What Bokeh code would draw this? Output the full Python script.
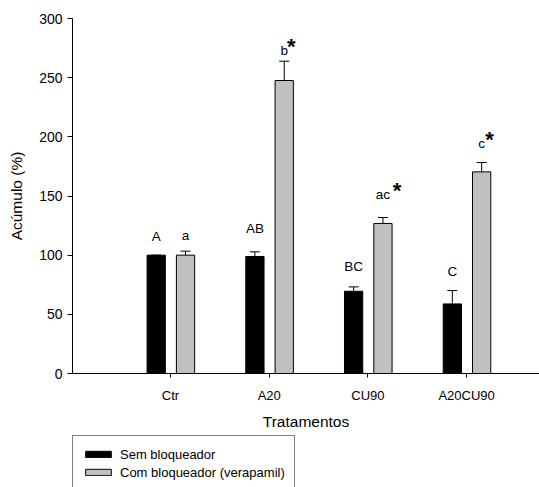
from bokeh.plotting import figure
from bokeh.layouts import column
from bokeh.models import ColumnDataSource, Whisker, TeeHead, Legend, LegendItem, FixedTicker, Range1d
from bokeh.core.properties import value
from bokeh.embed import file_html
from bokeh.resources import INLINE

# ---- data ----
treatments = ["Ctr", "A20", "CU90", "A20CU90"]
sem_mean = [100.0, 98.9, 69.5, 58.8]
sem_err = [0.0, 3.9, 3.7, 11.3]
com_mean = [100.0, 247.6, 126.8, 170.4]
com_err = [3.4, 16.3, 5.0, 7.9]
sem_letters = ["A", "AB", "BC", "C"]
sem_letter_y = [115.4, 122.8, 90.1, 86.5]
com_letters = ["a", "b", "ac", "c"]
com_letter_y = [116.9, 273.2, 151.5, 194.4]
com_stars = ["", "*", "*", "*"]
y_ticks = [0, 50, 100, 150, 200, 250, 300]
series_names = ["Sem bloqueador", "Com bloqueador (verapamil)"]

FONT = "Liberation Sans"
DODGE_SEM = -0.145
DODGE_COM = 0.152
BAR_W = 0.185
SEM_STYLE = dict(fill_color="black", line_color="black", line_width=1)
COM_STYLE = dict(fill_color="#c0c0c0", line_color="black", line_width=1)

xs = list(range(len(treatments)))
sem_src = ColumnDataSource(dict(
    x=[x + DODGE_SEM for x in xs], top=sem_mean,
    upper=[m + e for m, e in zip(sem_mean, sem_err)],
    lab=sem_letters, lab_y=sem_letter_y))
com_src = ColumnDataSource(dict(
    x=[x + DODGE_COM for x in xs], top=com_mean,
    upper=[m + e for m, e in zip(com_mean, com_err)],
    lab=com_letters, lab_y=com_letter_y,
    star=com_stars, star_y=[y + 3.0 for y in com_letter_y],
    star_dx=[0, 7, 14, 8]))

p = figure(width=539, height=434, output_backend="svg", toolbar_location=None,
           x_range=Range1d(-0.993, 3.738), y_range=Range1d(0, 300),
           min_border_left=72, min_border_top=18, min_border_right=0,
           min_border_bottom=61)
p.outline_line_color = None
p.xgrid.visible = False
p.ygrid.visible = False
p.background_fill_color = "white"
p.border_fill_color = "white"

p.vbar(x="x", top="top", width=BAR_W, bottom=0, source=sem_src, **SEM_STYLE)
p.vbar(x="x", top="top", width=BAR_W, bottom=0, source=com_src, **COM_STYLE)

for src in (sem_src, com_src):
    w = Whisker(source=src, base="x", lower="top", upper="upper", dimension="height",
                line_color="black", line_width=1,
                upper_head=TeeHead(size=10, line_color="black", line_width=1),
                lower_head=None)
    p.add_layout(w)

for src in (sem_src, com_src):
    p.text(x="x", y="lab_y", text="lab", source=src, text_align="center",
           text_baseline="alphabetic", text_font=value(FONT), text_font_size="13.5px",
           text_color="black")
p.text(x="x", y="star_y", text="star", source=com_src, x_offset="star_dx",
       text_align="center", text_baseline="alphabetic", text_font=value(FONT),
       text_font_size="22px", text_font_style="bold", text_color="black")

# axes
p.xaxis.ticker = FixedTicker(ticks=xs)
p.xaxis.major_label_overrides = {i: t for i, t in enumerate(treatments)}
p.xaxis.minor_tick_line_color = None
p.xaxis.major_tick_in = 0
p.xaxis.major_tick_out = 4
p.xaxis.major_label_standoff = 10
p.xaxis.axis_label = "Tratamentos"
p.xaxis.axis_label_standoff = 7

p.yaxis.ticker = FixedTicker(ticks=y_ticks)
p.yaxis.minor_tick_line_color = None
p.yaxis.major_tick_in = 0
p.yaxis.major_tick_out = 5
p.yaxis.major_label_standoff = 5
p.yaxis.axis_label = "Acúmulo (%)"
p.yaxis.axis_label_standoff = 11

for ax in (p.xaxis, p.yaxis):
    ax.axis_line_color = "black"
    ax.major_tick_line_color = "black"
    ax.major_label_text_font = FONT
    ax.major_label_text_color = "black"
    ax.axis_label_text_font = FONT
    ax.axis_label_text_font_style = "normal"
    ax.axis_label_text_font_size = "15.5px"
    ax.axis_label_text_color = "black"
p.xaxis.major_label_text_font_size = "13px"
p.yaxis.major_label_text_font_size = "14px"

# ---- legend strip below the chart (frame aligned with the chart's frame) ----
lg = figure(width=539, height=53, output_backend="svg", toolbar_location=None,
            x_axis_location=None, y_axis_location=None,
            x_range=Range1d(0, 1), y_range=Range1d(0, 1),
            min_border=0)
lg.outline_line_color = None
lg.xgrid.visible = False
lg.ygrid.visible = False
# proxy renderers (kept outside the visible range) that supply the legend swatches
proxy = ColumnDataSource(dict(x=[5.0], top=[0.5]))
r_sem = lg.vbar(x="x", top="top", width=0.1, source=proxy, **SEM_STYLE)
r_com = lg.vbar(x="x", top="top", width=0.1, source=proxy, **COM_STYLE)

legend = Legend(items=[LegendItem(label=series_names[0], renderers=[r_sem]),
                       LegendItem(label=series_names[1], renderers=[r_com])],
                location=(0, -4), orientation="vertical",
                padding=9, spacing=0, margin=0,
                glyph_width=32, glyph_height=8, label_height=18,
                label_standoff=6, label_text_font=FONT, label_text_font_size="13px",
                label_text_color="black", border_line_color="black",
                border_line_width=1, background_fill_color="white",
                background_fill_alpha=1.0)
lg.add_layout(legend, "center")

layout = column(p, lg, spacing=0)
open("out.html", "w").write(file_html(layout, INLINE))
